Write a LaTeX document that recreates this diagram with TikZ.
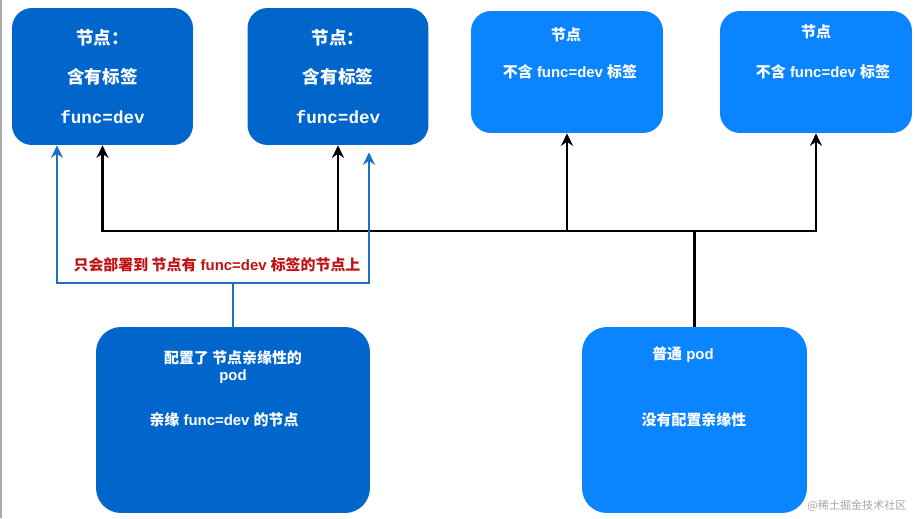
\documentclass[tikz,border=0pt]{standalone}
\usepackage{fontspec}
\setmainfont{Liberation Sans}
\setmonofont{Liberation Mono}
\newfontfamily\cjk{Noto Sans CJK SC}
\newcommand\zh[1]{{\cjk #1}}
\usetikzlibrary{arrows.meta}
\definecolor{darkblu}{RGB}{0,102,204}
\definecolor{lightblu}{RGB}{10,132,255}
\definecolor{linkblu}{RGB}{30,112,196}
\definecolor{notered}{RGB}{192,18,18}
\begin{document}
\begin{tikzpicture}[x=0.02cm, y=-0.02cm, >={Stealth[length=0.25cm, width=0.24cm]},
          font=\fontsize{8.5pt}{10pt}\selectfont\bfseries,
          box/.style={rounded corners=0.4cm, text=white, inner sep=0pt},
          nodebox/.style={box, fill=darkblu, minimum width=3.62cm, minimum height=2.74cm, align=center,
            font=\fontsize{10pt}{22.7pt}\selectfont\bfseries},
          freebox/.style={box, fill=lightblu, minimum width=3.84cm, minimum height=2.44cm},
          podbox/.style={box, rounded corners=0.5cm, minimum height=3.72cm},
          txt/.style={text=white, inner sep=0pt, align=center},
          blk/.style={black, line width=1.5pt},
          blu/.style={linkblu, line width=1.5pt}]
        \useasboundingbox (0,0) rectangle (917,518);
        \draw[black!33, line width=1.2pt] (1,0) -- (1,518);
        % nodes that carry the label
        \node[nodebox] (lab1) at (102.5,76.5) {\zh{节点：}\\\zh{含有标签}\\\ttfamily func=dev};
        \node[nodebox] (lab2) at (338,76.5) {\zh{节点：}\\\zh{含有标签}\\\ttfamily func=dev};
        % nodes without the label
        \node[freebox] (free1) at (567,72) {};
        \node[txt] (free1a) at (566,35) {\zh{节点}};
        \node[txt] (free1b) at (570,72) {\zh{不含} func=dev \zh{标签}};
        \node[freebox] (free2) at (816,72) {};
        \node[txt] (free2a) at (816,32) {\zh{节点}};
        \node[txt] (free2b) at (823,72) {\zh{不含} func=dev \zh{标签}};
        % the two pods
        \node[podbox, fill=darkblu, minimum width=5.48cm] (aff) at (233,420) {};
        \node[txt] (affa) at (233,358) {\zh{配置了 节点亲缘性的}};
        \node[txt] (affb) at (233,377) {pod};
        \node[txt] (affc) at (224,420) {\zh{亲缘} func=dev \zh{的节点}};
        \node[podbox, fill=lightblu, minimum width=4.5cm] (plain) at (694.5,420) {};
        \node[txt] (plaina) at (683,355) {\zh{普通} pod};
        \node[txt] (plainb) at (694,420) {\zh{没有配置亲缘性}};
        % plain pod may land anywhere
        \coordinate (bus) at (plain.north |- 0,231);
        \draw[blk] (plain.north) -- (bus);
        \draw[blk, ->] (bus) -| (lab1);
        \draw[blk, ->] (bus) -| (lab2);
        \draw[blk, ->] (bus) -| (free1);
        \draw[blk, ->] (bus) -| (free2);
        % affinity pod only reaches labelled nodes
        \coordinate (fork) at (aff.north |- 0,283);
        \draw[blu] (aff.north) -- (fork);
        \draw[blu, ->] (fork) -| ([xshift=-0.91cm]lab1.south);
        \draw[blu, ->] (fork) -| ([xshift=0.62cm, yshift=-0.14cm]lab2.south);
        \node[notered, inner sep=0pt] (rule) at (217,265) {\zh{只会部署到 节点有} func=dev \zh{标签的节点上}};
        \node[black!35, font=\fontsize{6.3pt}{8pt}\selectfont\mdseries, inner sep=0pt] (mark) at (857,506) {\zh{@稀土掘金技术社区}};
      \end{tikzpicture}
\end{document}
